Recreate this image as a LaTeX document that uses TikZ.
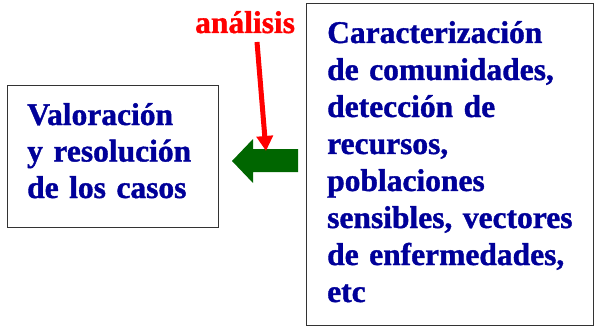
\documentclass[tikz,border=0pt]{standalone}
\usepackage{fontspec}
\setmainfont{Liberation Serif}[BoldFeatures={FakeBold=1.2}]
\usetikzlibrary{arrows.meta}
\definecolor{txtblue}{HTML}{000099}
\definecolor{arrgreen}{HTML}{006600}
\definecolor{boxline}{HTML}{333333}
\begin{document}
\begin{tikzpicture}[x=1pt,y=-1pt,
  box/.style={draw=boxline,line width=1.3pt,fill=white,anchor=north west,inner sep=0pt},
  boxtext/.style={text=txtblue,font=\bfseries\fontsize{31.5}{37}\selectfont,align=left,
    inner sep=0pt,anchor=base west},
  lbl/.style={text=red,font=\bfseries\fontsize{31.5}{37}\selectfont,inner sep=0pt}]
\useasboundingbox (0,0) rectangle (594,329);
\node[box,minimum width=211pt,minimum height=142pt] (left) at (7,85) {};
\node[box,minimum width=287pt,minimum height=322pt] (right) at (306,3) {};
\node[boxtext,text width=185pt,font=\bfseries\fontsize{31.5}{36.5}\selectfont] (lefttext) at (27,125)
  {Valoración\\y resolución\\de los casos};
\node[boxtext,text width=262pt] (righttext) at (327,43)
  {Caracterización\\de comunidades,\\detección de\\recursos,\\poblaciones\\sensibles, vectores\\de enfermedades,\\etc};
\node[lbl,anchor=base west] (lab) at (195,33) {análisis};
% green block arrow
\coordinate (gtail) at (298,161);
\coordinate (gtip) at (232,161);
\fill[arrgreen] (gtip) -- (253,139) -- (253,149) -- (298,149) -- (298,172) -- (253,172) -- (253,183) -- cycle;
% red arrow
\coordinate (rstart) at (257,42);
\coordinate (rend) at (266,151);
\draw[red,line width=5pt,-{Triangle[width=16pt,length=15pt]}] (rstart) -- (rend);
\end{tikzpicture}
\end{document}
